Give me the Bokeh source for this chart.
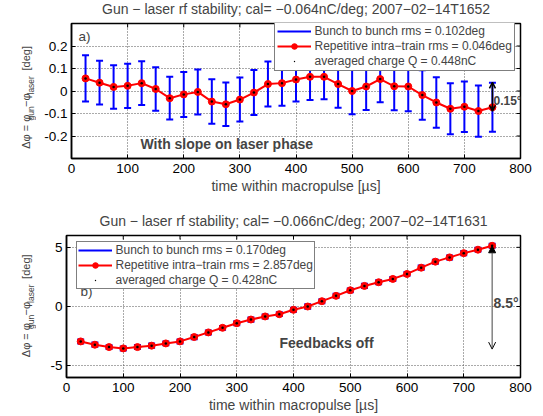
import math
from bokeh.plotting import figure
from bokeh.layouts import column, row
from bokeh.models import (Range1d, FixedTicker, Label, Legend, LegendItem, Arrow,
                          OpenHead, NormalHead)
from bokeh.embed import file_html
from bokeh.resources import INLINE

FONT = "Liberation Sans"

# ---------------- data ----------------
t_us = [25, 50, 75, 100, 125, 150, 175, 200, 225, 250, 275, 300, 325, 350, 375,
        400, 425, 450, 475, 500, 525, 550, 575, 600, 625, 650, 675, 700, 725, 750]

dphi_a = [0.056, 0.037, 0.018, 0.023, 0.035, 0.009, -0.032, -0.015, -0.004, -0.047,
          -0.059, -0.038, -0.007, 0.031, 0.035, 0.051, 0.063, 0.063, 0.031, 0.000,
          0.020, 0.053, 0.021, 0.020, -0.018, -0.051, -0.079, -0.070, -0.089, -0.072]
rms_a = [0.103, 0.097, 0.097, 0.098, 0.097, 0.097, 0.095, 0.100, 0.100, 0.099,
         0.097, 0.098, 0.100, 0.100, 0.100, 0.098, 0.103, 0.100, 0.105, 0.103,
         0.104, 0.103, 0.107, 0.110, 0.110, 0.112, 0.113, 0.112, 0.114, 0.109]

dphi_b = [-2.95, -3.23, -3.43, -3.54, -3.43, -3.31, -3.12, -2.95, -2.58, -2.19,
          -1.80, -1.41, -1.10, -0.84, -0.65, -0.28, 0.00, 0.45, 0.90, 1.37,
          1.74, 2.05, 2.33, 2.75, 3.28, 3.79, 4.15, 4.51, 4.80, 5.13]
rms_b = [0.17, 0.18, 0.16, 0.17, 0.17, 0.18, 0.16, 0.17, 0.18, 0.17,
         0.16, 0.17, 0.18, 0.17, 0.16, 0.17, 0.18, 0.17, 0.17, 0.16,
         0.18, 0.17, 0.17, 0.16, 0.18, 0.17, 0.17, 0.18, 0.16, 0.17]

x_ticks = [0, 100, 200, 300, 400, 500, 600, 700, 800]
y_ticks_a = [-0.2, -0.1, 0, 0.1, 0.2]
y_ticks_b = [-5, 0, 5]

title_a = "Gun \u2212 laser rf stability; cal= \u22120.064nC/deg; 2007\u221202\u221214T1652"
title_b = "Gun \u2212 laser rf stability; cal= \u22120.066nC/deg; 2007\u221202\u221214T1631"
legend_a = ["Bunch to bunch rms = 0.102deg",
            "Repetitive intra\u2212train rms = 0.046deg",
            "averaged charge Q = 0.448nC"]
legend_b = ["Bunch to bunch rms = 0.170deg",
            "Repetitive intra\u2212train rms = 2.857deg",
            "averaged charge Q = 0.428nC"]
x_label = "time within macropulse [\u00b5s]"
ylabel_parts = [("\u0394\u03c6 = \u03c6", 0.0, 0, "11px"),
                ("gun", 28.3, 5, "8.5px"),
                ("\u2212\u03c6", 41.8, 0, "11px"),
                ("laser", 54.3, 5, "8.5px"),
                ("[deg]", 78.3, 0, "11px")]

W = 543
LW = 36  # width of the strip holding the y-axis label


def bare(width, height, xr, yr, mb_top=0, mb_bottom=0):
    return figure(width=width, height=height, x_range=Range1d(*xr), y_range=Range1d(*yr),
                  output_backend="svg", toolbar_location=None, title=None,
                  x_axis_type=None, y_axis_type=None,
                  min_border=0, min_border_left=0, min_border_right=0,
                  min_border_top=mb_top, min_border_bottom=mb_bottom,
                  outline_line_color=None, background_fill_color="white",
                  border_fill_color="white")


def title_strip(text, T, cx, cy):
    t = bare(W, T, (0, W), (0, T))
    t.add_layout(Label(x=cx, y=T - cy, text=text, text_font=FONT, text_font_size="14px",
                       text_align="center", text_baseline="middle"))
    return t


def ylabel_strip(H, ft, fb, start_cy):
    # frame spans the same rows as the neighbouring plot frame; units are pixels
    s = bare(LW, H, (0, LW), (H - fb, H - ft), mb_top=ft, mb_bottom=H - fb)
    for txt, off, sx, fs in ylabel_parts:
        s.add_layout(Label(x=25 + sx, y=H - (start_cy - off), text=txt, angle=math.pi / 2,
                           text_font=FONT, text_font_size=fs, text_align="left",
                           text_baseline="middle"))
    return s


def panel(y, err, yr, yticks, H, y0, fl, fr, ft, fb,
          tag, tag_px, note, note_px, arrow_spec, arrow_label, arrow_label_px, arrow_fs):
    # fl, fr: canvas x of frame; ft, fb: canvas y of frame; y0: canvas y of figure top
    pw = W - LW
    p = figure(width=pw, height=H, x_range=Range1d(0, 800), y_range=Range1d(*yr),
               output_backend="svg", toolbar_location=None, title=None,
               min_border_left=fl - LW, min_border_right=W - fr,
               min_border_top=ft - y0, min_border_bottom=y0 + H - fb,
               background_fill_color="white", border_fill_color="white")
    ppx = (fr - fl) / 800.0
    ppy = (fb - ft) / (yr[1] - yr[0])

    def dx(cx):
        return (cx - fl) / ppx

    def dy(cy):
        return yr[0] + (fb - cy) / ppy

    p.outline_line_color = "black"
    p.outline_line_width = 1.5

    for ax, ticks in ((p.xaxis, x_ticks), (p.yaxis, yticks)):
        ax.ticker = FixedTicker(ticks=ticks)
        ax.major_label_text_font = FONT
        ax.major_label_text_font_size = "13.5px"
        ax.major_label_text_color = "black"
        ax.major_tick_in = 4
        ax.major_tick_out = 0
        ax.minor_tick_in = 0
        ax.minor_tick_out = 0
        ax.axis_line_width = 1.5
        ax.major_tick_line_width = 1
    p.xaxis.major_label_standoff = 5
    p.yaxis.major_label_standoff = 4
    p.yaxis.major_label_overrides = {v: ("%g" % v) for v in yticks}
    p.xaxis.axis_label = x_label
    p.xaxis.axis_label_text_font = FONT
    p.xaxis.axis_label_text_font_size = "14px"
    p.xaxis.axis_label_text_font_style = "normal"
    p.xaxis.axis_label_standoff = 2

    for g, ticks in ((p.xgrid, x_ticks), (p.ygrid, yticks)):
        g.ticker = FixedTicker(ticks=ticks)
        g.grid_line_color = "#555555"
        g.grid_line_dash = "1 2"
        g.grid_line_width = 1

    # inward tick marks on the right and top edges of the box
    tl_x = 4 / ppx
    tl_y = 4 / ppy
    p.segment(x0=[800 - tl_x] * len(yticks), y0=yticks, x1=[800] * len(yticks), y1=yticks,
              line_color="black", line_width=1)
    p.segment(x0=x_ticks, y0=[yr[1] - tl_y] * len(x_ticks), x1=x_ticks,
              y1=[yr[1]] * len(x_ticks), line_color="black", line_width=1)

    # error bars
    lo = [v - e for v, e in zip(y, err)]
    hi = [v + e for v, e in zip(y, err)]
    cw = 3.5 / ppx
    stems = p.segment(x0=t_us, y0=lo, x1=t_us, y1=hi, line_color="blue", line_width=2)
    p.segment(x0=[t - cw for t in t_us], y0=hi, x1=[t + cw for t in t_us], y1=hi,
              line_color="blue", line_width=2)
    p.segment(x0=[t - cw for t in t_us], y0=lo, x1=[t + cw for t in t_us], y1=lo,
              line_color="blue", line_width=2)
    ln = p.line(t_us, y, line_color="red", line_width=2)
    mk = p.scatter(t_us, y, size=7, fill_color="red", line_color="red")
    dots = p.scatter(t_us, y, marker="dot", size=10, line_color="black", fill_color="black")

    # annotations
    p.add_layout(Label(x=dx(tag_px[0]), y=dy(tag_px[1]), text=tag, text_font=FONT,
                       text_font_size="13.5px", text_baseline="middle", text_align="left"))
    p.add_layout(Label(x=dx(note_px[0]), y=dy(note_px[1]), text=note, text_font=FONT,
                       text_font_size="14px", text_font_style="bold",
                       text_baseline="middle", text_align="left"))
    (ys, ye, start_head, end_head, acol, aw) = arrow_spec
    p.add_layout(Arrow(x_start=750, y_start=ys, x_end=750, y_end=ye,
                       start=start_head, end=end_head, line_color=acol, line_width=aw))
    p.add_layout(Label(x=dx(arrow_label_px[0]), y=dy(arrow_label_px[1]), text=arrow_label,
                       text_font=FONT, text_font_size=arrow_fs, text_font_style="bold",
                       text_baseline="middle", text_align="left"))

    return p, (stems, ln, mk, dots)


def add_legend(p, rends, labels, loc, spacing, padding):
    stems, ln, mk, dots = rends
    leg = Legend(items=[LegendItem(label=labels[0], renderers=[stems]),
                        LegendItem(label=labels[1], renderers=[ln, mk]),
                        LegendItem(label=labels[2], renderers=[dots])],
                 location=loc, margin=0, padding=padding, spacing=spacing,
                 glyph_width=34, glyph_height=14, label_height=14, label_standoff=4,
                 label_text_font=FONT, label_text_font_size="12px",
                 border_line_color="black", border_line_width=1,
                 background_fill_color="white", background_fill_alpha=1.0)
    p.add_layout(leg)


# ---- panel a (canvas rows 0..205) ----
T1 = 20
H1 = 205 - T1
FA = (71, 520, 23, 158)
t1 = title_strip(title_a, T1, (FA[0] + FA[1]) / 2, 8.5)
p1, r1 = panel(dphi_a, rms_a, (-0.3, 0.3), y_ticks_a, H1, T1, *FA,
               "a)", (78, 36), "With slope on laser phase", (140, 143.3),
               (-0.09, 0.038, OpenHead(size=6, line_width=1.5), OpenHead(size=6, line_width=1.5),
                "black", 1.5),
               "0.15\u00b0", (493, 100), "12px")
add_legend(p1, r1, legend_a, (202.5, 87), 1, 2)
s1 = ylabel_strip(H1, FA[2] - T1, FA[3] - T1, 148.3 - T1)

# ---- panel b (canvas rows 205..416) ----
Y2 = 205
T2 = 25
H2 = 416 - Y2 - T2
FB = (66, 520, 30 + Y2, 172 + Y2)
t2 = title_strip(title_b, T2, (FB[0] + FB[1]) / 2, 15.6)
p2, r2 = panel(dphi_b, rms_b, (-6, 6), y_ticks_b, H2, Y2 + T2, *FB,
               "b)", (80, 291.3), "Feedbacks off", (279, 342.5),
               (5.13, -3.6, NormalHead(size=7, fill_color="black", line_color="black"),
                OpenHead(size=7, line_width=1), "#444444", 1),
               "8.5\u00b0", (493, 302), "14px")
add_legend(p2, r2, legend_b, (9.5, 88), 1, 1)
s2 = ylabel_strip(H2, FB[2] - Y2 - T2, FB[3] - Y2 - T2, 356.7 - Y2 - T2)

layout = column(t1, row(s1, p1, spacing=0), t2, row(s2, p2, spacing=0), spacing=0)
open("out.html", "w").write(file_html(layout, INLINE))
